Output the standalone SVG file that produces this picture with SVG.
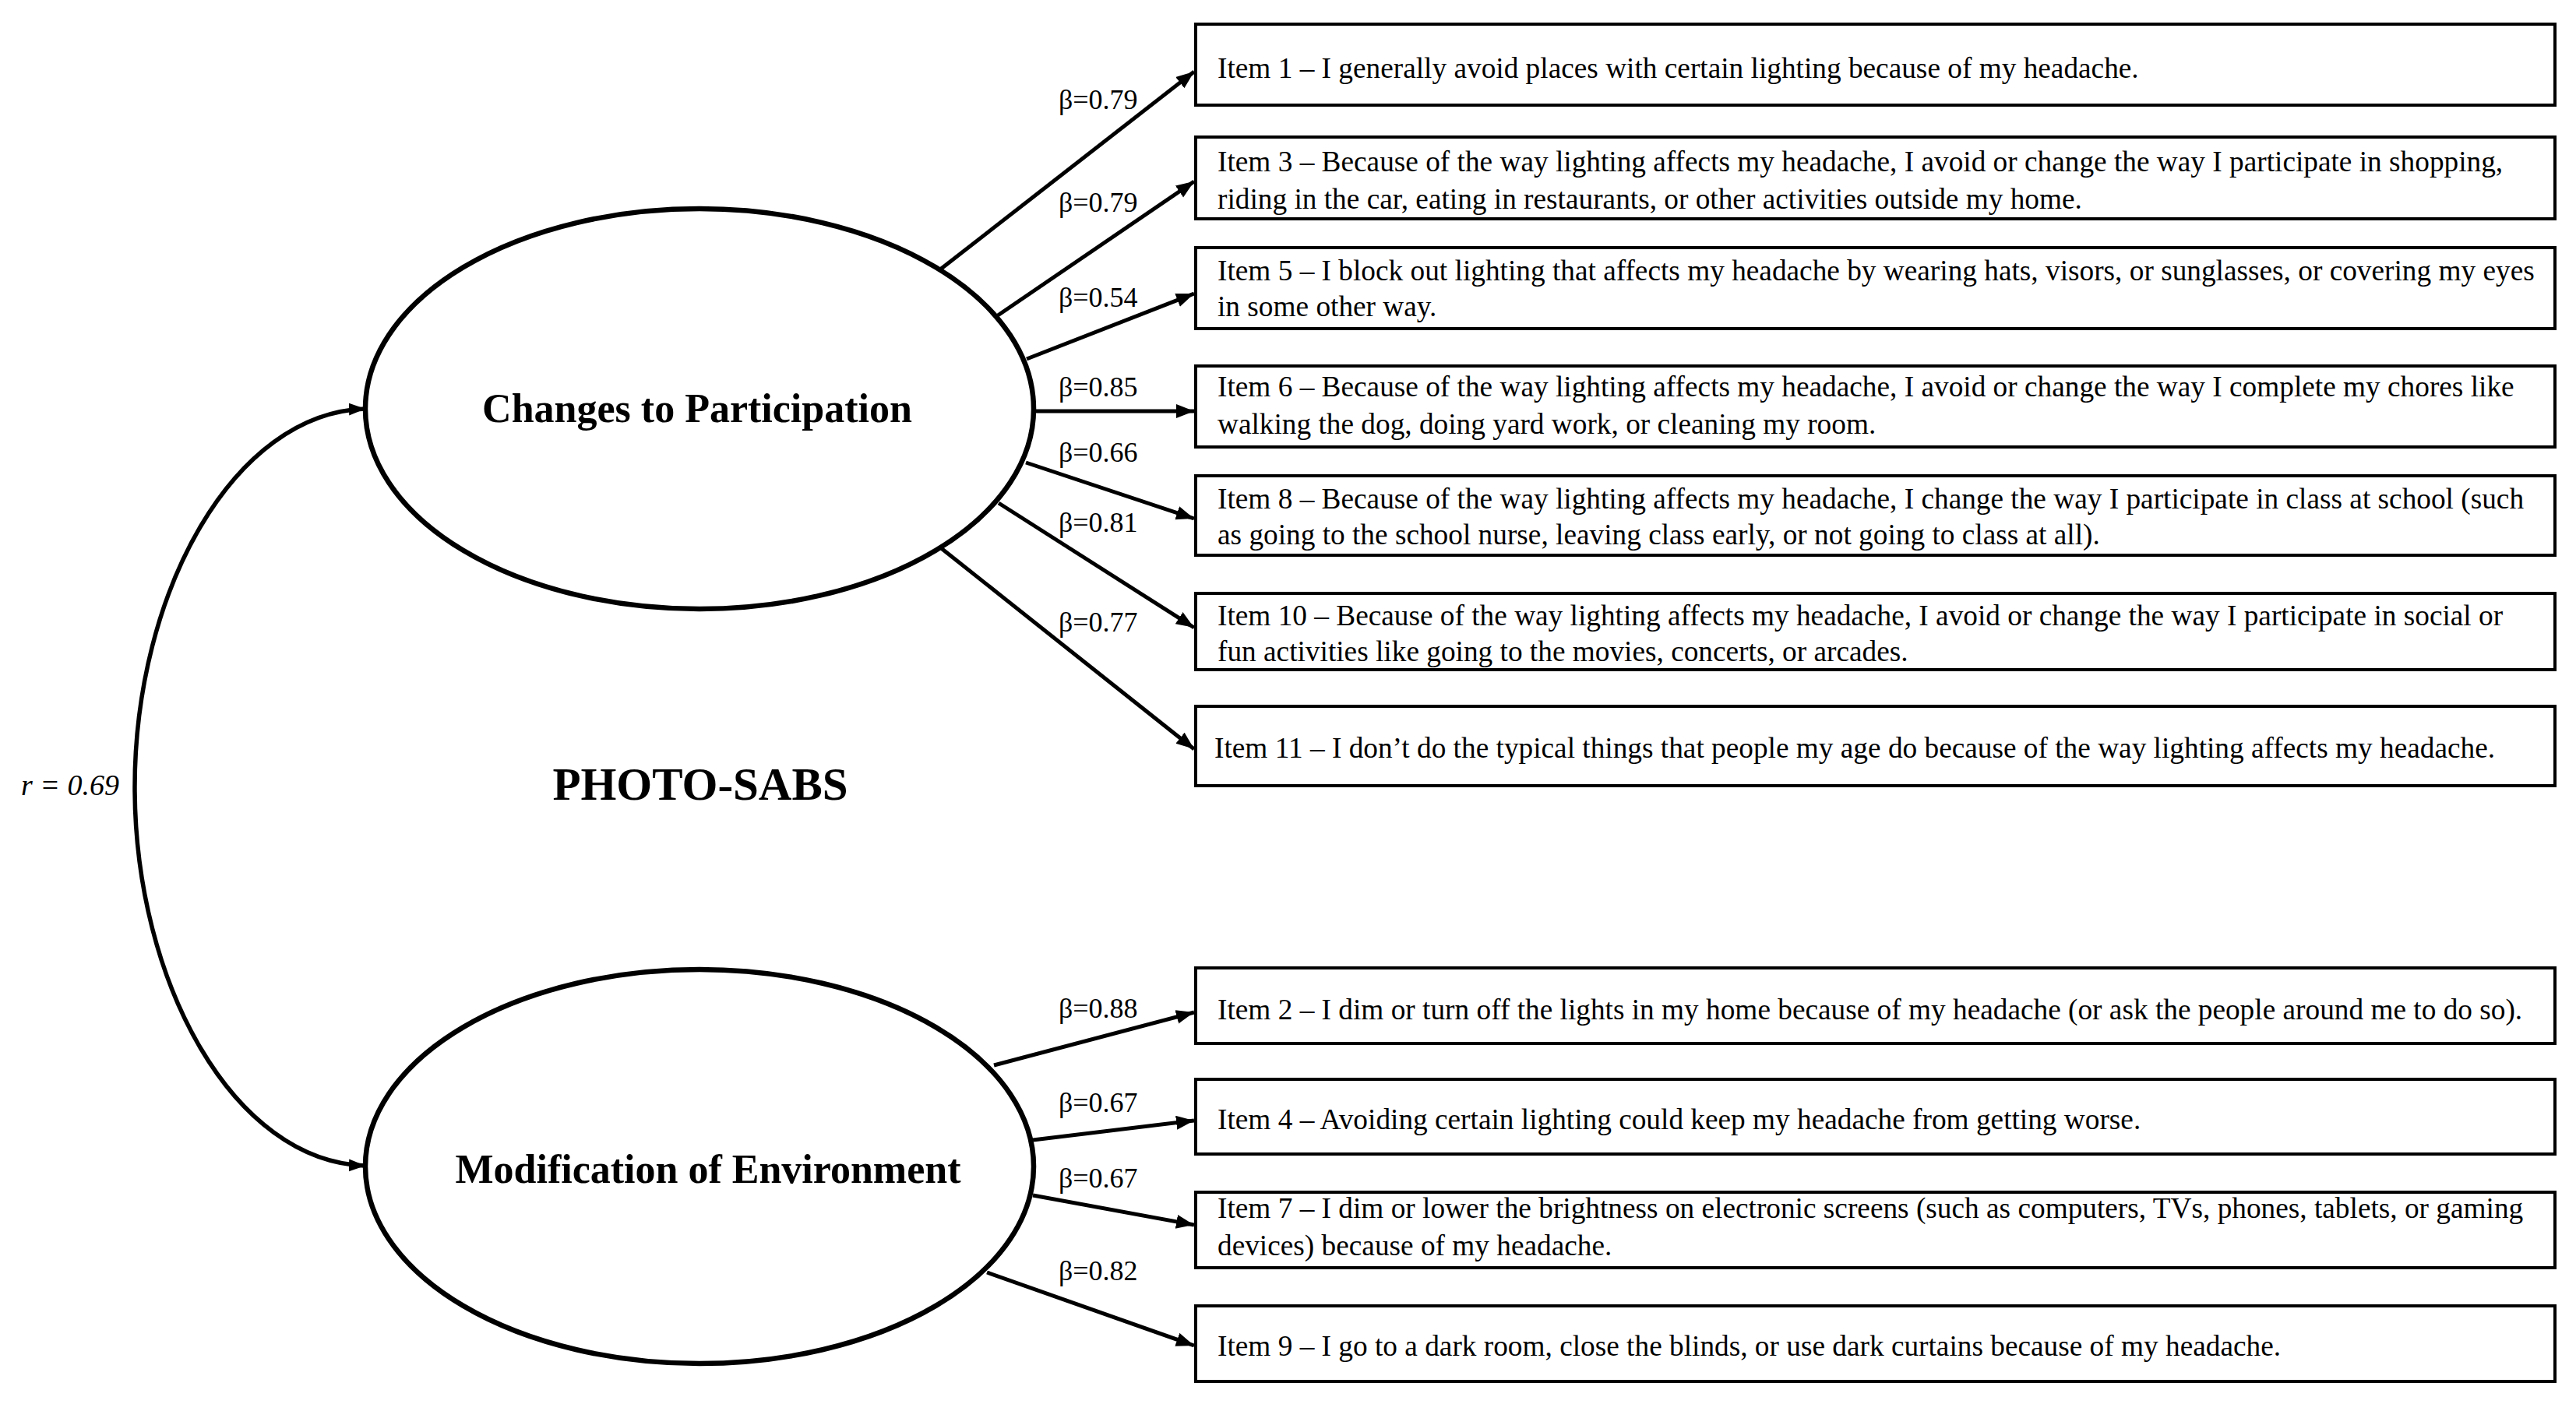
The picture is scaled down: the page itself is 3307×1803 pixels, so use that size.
<svg xmlns="http://www.w3.org/2000/svg" width="3307" height="1803" viewBox="0 0 3307 1803">
<style>
.bg{fill:#fff}
.latent{fill:#fff;stroke:#000;stroke-width:6.5}
.box{fill:#fff;stroke:#000;stroke-width:4}
.lname{font-family:"Liberation Serif","Times New Roman",serif;font-weight:bold;font-size:52px;fill:#000;text-anchor:middle}
.item{font-family:"Liberation Serif","Times New Roman",serif;font-size:37.3px;fill:#000}
.beta{font-family:"Liberation Serif","Times New Roman",serif;font-size:36px;fill:#000}
.title{font-family:"Liberation Serif","Times New Roman",serif;font-weight:bold;font-size:59px;fill:#000;text-anchor:middle}
.corr{font-family:"Liberation Serif","Times New Roman",serif;font-style:italic;font-size:38px;fill:#000}
.edge{fill:none;stroke:#000;stroke-width:5;marker-end:url(#ah)}
.arc{fill:none;stroke:#000;stroke-width:5.5;marker-start:url(#ah2);marker-end:url(#ah2)}
</style>
<defs>
<marker id="ah" markerUnits="userSpaceOnUse" markerWidth="26" markerHeight="20" refX="23" refY="9" orient="auto" viewBox="0 0 26 20">
<path d="M0,0 L23,9 L0,18 z" fill="#000"/>
</marker>
<marker id="ah2" markerUnits="userSpaceOnUse" markerWidth="24" markerHeight="20" refX="21" refY="8" orient="auto-start-reverse" viewBox="0 0 24 20">
<path d="M0,0 L21,8 L0,16 z" fill="#000"/>
</marker>
</defs>
<rect class="bg" x="0" y="0" width="3307" height="1803"/>

<g id="connectors">
<path class="arc" d="M469,525 C300,530 173,760 173,1011 C173,1262 300,1492 469,1497"/>
<line class="edge" x1="1207" y1="346" x2="1533" y2="92"/>
<line class="edge" x1="1281" y1="405" x2="1533" y2="233"/>
<line class="edge" x1="1318" y1="461" x2="1533" y2="377"/>
<line class="edge" x1="1327" y1="528" x2="1533" y2="528"/>
<line class="edge" x1="1317" y1="594" x2="1533" y2="666"/>
<line class="edge" x1="1282" y1="646" x2="1533" y2="806"/>
<line class="edge" x1="1207" y1="703" x2="1533" y2="962"/>
<line class="edge" x1="1276" y1="1368" x2="1533" y2="1300"/>
<line class="edge" x1="1326" y1="1464" x2="1533" y2="1439"/>
<line class="edge" x1="1326" y1="1535" x2="1533" y2="1573"/>
<line class="edge" x1="1267" y1="1634" x2="1533" y2="1728"/>
<text class="corr" x="27" y="1021">r = 0.69</text>
<text class="beta" x="1359" y="140">β=0.79</text>
<text class="beta" x="1359" y="272">β=0.79</text>
<text class="beta" x="1359" y="394">β=0.54</text>
<text class="beta" x="1359" y="509">β=0.85</text>
<text class="beta" x="1359" y="593">β=0.66</text>
<text class="beta" x="1359" y="683">β=0.81</text>
<text class="beta" x="1359" y="811">β=0.77</text>
<text class="beta" x="1359" y="1307">β=0.88</text>
<text class="beta" x="1359" y="1428">β=0.67</text>
<text class="beta" x="1359" y="1525">β=0.67</text>
<text class="beta" x="1359" y="1644">β=0.82</text>
</g>

<g id="changes-to-participation">
<ellipse class="latent" cx="898" cy="525" rx="429" ry="257"/>
<text class="lname" x="895" y="542">Changes to Participation</text>
</g>

<g id="modification-of-environment">
<ellipse class="latent" cx="898" cy="1498" rx="429" ry="253"/>
<text class="lname" x="909" y="1519">Modification of Environment</text>
</g>

<g id="photo-sabs">
<text class="title" x="899" y="1027">PHOTO-SABS</text>
</g>

<g id="item1">
<rect class="box" x="1535" y="31" width="1745" height="104"/>
<text class="item" x="1563" y="100">Item 1 – I generally avoid places with certain lighting because of my headache.</text>
</g>
<g id="item3">
<rect class="box" x="1535" y="176" width="1745" height="105"/>
<text class="item" x="1563" y="220">Item 3 – Because of the way lighting affects my headache, I avoid or change the way I participate in shopping,</text>
<text class="item" x="1563" y="268">riding in the car, eating in restaurants, or other activities outside my home.</text>
</g>
<g id="item5">
<rect class="box" x="1535" y="318" width="1745" height="104"/>
<text class="item" x="1563" y="360">Item 5 – I block out lighting that affects my headache by wearing hats, visors, or sunglasses, or covering my eyes</text>
<text class="item" x="1563" y="406">in some other way.</text>
</g>
<g id="item6">
<rect class="box" x="1535" y="470" width="1745" height="104"/>
<text class="item" x="1563" y="509">Item 6 – Because of the way lighting affects my headache, I avoid or change the way I complete my chores like</text>
<text class="item" x="1563" y="557">walking the dog, doing yard work, or cleaning my room.</text>
</g>
<g id="item8">
<rect class="box" x="1535" y="611" width="1745" height="102"/>
<text class="item" x="1563" y="653">Item 8 – Because of the way lighting affects my headache, I change the way I participate in class at school (such</text>
<text class="item" x="1563" y="699">as going to the school nurse, leaving class early, or not going to class at all).</text>
</g>
<g id="item10">
<rect class="box" x="1535" y="762" width="1745" height="98"/>
<text class="item" x="1563" y="803">Item 10 – Because of the way lighting affects my headache, I avoid or change the way I participate in social or</text>
<text class="item" x="1563" y="849">fun activities like going to the movies, concerts, or arcades.</text>
</g>
<g id="item11">
<rect class="box" x="1535" y="907" width="1745" height="102"/>
<text class="item" x="1559" y="973">Item 11 – I don’t do the typical things that people my age do because of the way lighting affects my headache.</text>
</g>
<g id="item2">
<rect class="box" x="1535" y="1243" width="1745" height="97"/>
<text class="item" x="1563" y="1309">Item 2 – I dim or turn off the lights in my home because of my headache (or ask the people around me to do so).</text>
</g>
<g id="item4">
<rect class="box" x="1535" y="1386" width="1745" height="96"/>
<text class="item" x="1563" y="1450">Item 4 – Avoiding certain lighting could keep my headache from getting worse.</text>
</g>
<g id="item7">
<rect class="box" x="1535" y="1531" width="1745" height="97"/>
<text class="item" x="1563" y="1564">Item 7 – I dim or lower the brightness on electronic screens (such as computers, TVs, phones, tablets, or gaming</text>
<text class="item" x="1563" y="1612">devices) because of my headache.</text>
</g>
<g id="item9">
<rect class="box" x="1535" y="1677" width="1745" height="97"/>
<text class="item" x="1563" y="1741">Item 9 – I go to a dark room, close the blinds, or use dark curtains because of my headache.</text>
</g>
</svg>
